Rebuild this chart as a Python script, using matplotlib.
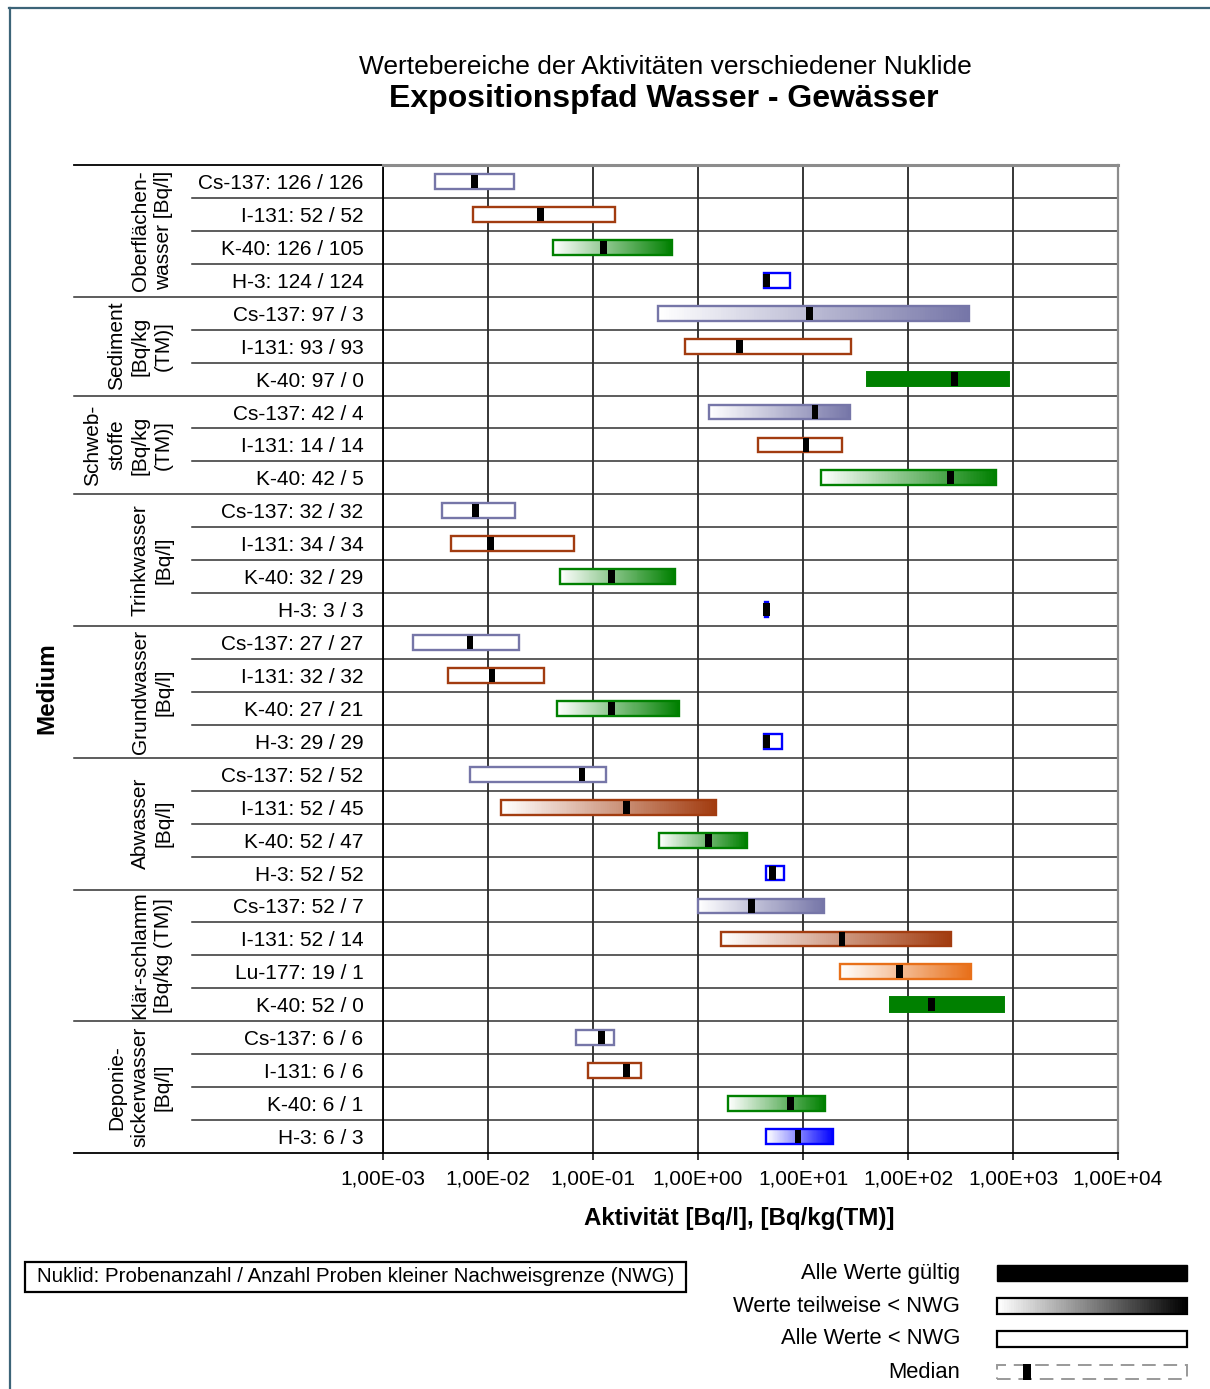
import numpy as np
import matplotlib
matplotlib.use("Agg")
import matplotlib.pyplot as plt
from matplotlib.patches import Rectangle
from matplotlib.collections import PatchCollection
from matplotlib.lines import Line2D
from matplotlib.ticker import NullLocator
import matplotlib.transforms as mtransforms
from matplotlib.colors import to_rgb

plt.rcParams['font.family'] = ['Liberation Sans', 'DejaVu Sans']

# ---------------- data ----------------
group_labels = ["Oberflächen-\nwasser [Bq/l]", "Sediment\n[Bq/kg\n(TM)]",
                "Schweb-\nstoffe\n[Bq/kg\n(TM)]", "Trinkwasser\n[Bq/l]",
                "Grundwasser\n[Bq/l]", "Abwasser\n[Bq/l]",
                "Klär-schlamm\n[Bq/kg (TM)]", "Deponie-\nsickerwasser\n[Bq/l]"]
group_sizes = [4, 3, 3, 4, 4, 4, 4, 4]

nuclides = ["Cs-137", "I-131", "K-40", "H-3",
            "Cs-137", "I-131", "K-40",
            "Cs-137", "I-131", "K-40",
            "Cs-137", "I-131", "K-40", "H-3",
            "Cs-137", "I-131", "K-40", "H-3",
            "Cs-137", "I-131", "K-40", "H-3",
            "Cs-137", "I-131", "Lu-177", "K-40",
            "Cs-137", "I-131", "K-40", "H-3"]
n_samples = [126, 52, 126, 124, 97, 93, 97, 42, 14, 42,
             32, 34, 32, 3, 27, 32, 27, 29, 52, 52, 52, 52,
             52, 52, 19, 52, 6, 6, 6, 6]
n_below = [126, 52, 105, 124, 3, 93, 0, 4, 14, 5,
           32, 34, 29, 3, 27, 32, 21, 29, 52, 45, 47, 52,
           7, 14, 1, 0, 6, 6, 1, 3]
v_min = [0.0031, 0.00718, 0.042, 4.22, 0.42, 0.76, 40.6, 1.26, 3.76, 14.8,
         0.00363, 0.00442, 0.0482, 4.35, 0.00195, 0.00419, 0.0458, 4.22,
         0.00675, 0.0134, 0.424, 4.49, 1.0, 1.64, 22.5, 67.4,
         0.0692, 0.0897, 1.94, 4.49]
v_max = [0.0175, 0.163, 0.571, 7.53, 384, 28.9, 925, 28.3, 23.7, 692,
         0.0179, 0.0664, 0.603, 4.67, 0.0196, 0.0343, 0.661, 6.37,
         0.133, 1.48, 2.9, 6.58, 15.8, 254, 396, 826,
         0.16, 0.288, 16.2, 19.5]
v_median = [0.0075, 0.0319, 0.126, 4.5, 11.6, 2.49, 279, 13.0, 10.7, 254,
            0.00764, 0.01064, 0.149, 4.47, 0.00675, 0.0109, 0.149, 4.5,
            0.0784, 0.209, 1.25, 5.08, 3.22, 23.5, 83, 168,
            0.12, 0.209, 7.59, 8.97]

tick_values = [1e-3, 1e-2, 1e-1, 1e0, 1e1, 1e2, 1e3, 1e4]
tick_labels = ["1,00E-03", "1,00E-02", "1,00E-01", "1,00E+00",
               "1,00E+01", "1,00E+02", "1,00E+03", "1,00E+04"]

nuclide_colors = {"Cs-137": "#7676a8", "I-131": "#a23c10", "K-40": "#008000",
                  "H-3": "#0000ff", "Lu-177": "#e8701a"}

row_labels = [f"{nu}: {a} / {b}" for nu, a, b in zip(nuclides, n_samples, n_below)]

# ---------------- figure ----------------
W, H = 1210, 1389
fig = plt.figure(figsize=(W / 100, H / 100), dpi=100)


def fx(px):
    return px / W


def fy(py):
    return 1 - py / H


AX_L, AX_R, AX_T, AX_B = 383, 1118, 165, 1153
ax = fig.add_axes([fx(AX_L), fy(AX_B), (AX_R - AX_L) / W, (AX_B - AX_T) / H])
ax.set_xscale('log')
ax.set_xlim(tick_values[0], tick_values[-1])
n = len(nuclides)
ax.set_ylim(n, 0)

ax.set_xticks(tick_values)
ax.set_xticklabels(tick_labels)
ax.xaxis.set_minor_locator(NullLocator())
ax.tick_params(axis='x', length=5, width=1.1, direction='out', pad=7,
               labelsize=15, colors='black')
ax.set_yticks(np.arange(n) + 0.5)
ax.set_yticklabels(row_labels)
ax.tick_params(axis='y', length=0, pad=14.0, labelsize=15)
ax.grid(axis='x', color='black', lw=1.1, zorder=1)
ax.set_axisbelow(True)

for side in ['left', 'bottom']:
    ax.spines[side].set_color('black')
    ax.spines[side].set_linewidth(1.3)
ax.spines['top'].set_color('#8c8c8c')
ax.spines['top'].set_linewidth(2.2)
ax.spines['right'].set_color('#8c8c8c')
ax.spines['right'].set_linewidth(1.6)

# row separators
trans = mtransforms.blended_transform_factory(fig.transFigure, ax.transData)
boundaries = set(np.cumsum([0] + group_sizes).tolist())
for k in range(1, n):
    start = 74 if k in boundaries else 192
    ax.add_line(Line2D([fx(start), fx(AX_R)], [k, k], transform=trans,
                       color='#303030', lw=1.1, clip_on=False, zorder=2))
for k in (0, n):
    ax.add_line(Line2D([fx(74), fx(AX_L)], [k, k], transform=trans,
                       color='black', lw=1.3, clip_on=False, zorder=2))

# group labels
start = 0
for lab, size in zip(group_labels, group_sizes):
    ax.text(fx(173), start + size / 2, lab, transform=trans, rotation=90,
            ha='right', va='center', multialignment='center', fontsize=15,
            linespacing=1.3)
    start += size

# bars
bar_h = 0.45
med_h = 0.40
px_per_dec = (AX_R - AX_L) / 7.0
med_f = 10 ** (3.4 / px_per_dec)
NSEG = 120
for i in range(n):
    c = nuclide_colors[nuclides[i]]
    yc = i + 0.5
    lo, hi = v_min[i], v_max[i]
    y0 = yc - bar_h / 2
    if n_below[i] == 0:
        ax.add_patch(Rectangle((lo, y0), hi - lo, bar_h, facecolor=c,
                               edgecolor=c, lw=1.4, zorder=3))
    elif n_below[i] == n_samples[i]:
        ax.add_patch(Rectangle((lo, y0), hi - lo, bar_h, facecolor='white',
                               edgecolor=c, lw=1.7, zorder=3))
    else:
        edges = np.geomspace(lo, hi, NSEG + 1)
        rgb = np.array(to_rgb(c))
        t = np.linspace(0, 1, NSEG)[:, None]
        cols = (1 - t) * np.ones(3) + t * rgb
        rects = [Rectangle((edges[k], y0), edges[k + 1] - edges[k], bar_h)
                 for k in range(NSEG)]
        pc = PatchCollection(rects, facecolors=cols, edgecolors='none',
                             antialiased=False, zorder=3)
        ax.add_collection(pc)
        ax.add_patch(Rectangle((lo, y0), hi - lo, bar_h, fill=False,
                               edgecolor=c, lw=1.7, zorder=4))
    m = v_median[i]
    ax.add_patch(Rectangle((m / med_f, yc - med_h / 2), m * med_f - m / med_f,
                           med_h, facecolor='black', edgecolor='none', zorder=5))

# titles and axis labels
fig.text(fx(665), fy(67), "Wertebereiche der Aktivitäten verschiedener Nuklide",
         ha='center', va='center', fontsize=19)
fig.text(fx(664), fy(99), "Expositionspfad Wasser - Gewässer",
         ha='center', va='center', fontsize=23, fontweight='bold')
fig.text(fx(739), fy(1218), "Aktivität [Bq/l], [Bq/kg(TM)]",
         ha='center', va='center', fontsize=17.4, fontweight='bold')
fig.text(fx(47), fy(688), "Medium", rotation=90, ha='center', va='center',
         fontsize=17.5, fontweight='bold')

# legend box (left)
fig.add_artist(Rectangle((fx(25), fy(1292)), (686 - 25) / W, 30 / H,
                         transform=fig.transFigure, facecolor='white',
                         edgecolor='black', lw=1.6))
fig.text(fx(356), fy(1277),
         "Nuklid: Probenanzahl / Anzahl Proben kleiner Nachweisgrenze (NWG)",
         ha='center', va='center', fontsize=14.8)

# legend (right)
leg_texts = ["Alle Werte gültig", "Werte teilweise < NWG", "Alle Werte < NWG", "Median"]
leg_y = [1273, 1306, 1339, 1372]
for txt, yy in zip(leg_texts, leg_y):
    fig.text(fx(960), fy(yy), txt, ha='right', va='center', fontsize=15.8)

SX0, SX1 = 997, 1187
sw_h = 16
# solid
fig.add_artist(Rectangle((fx(SX0), fy(1273 + sw_h / 2)), (SX1 - SX0) / W, sw_h / H,
                         transform=fig.transFigure, facecolor='black',
                         edgecolor='black', lw=1.0))
# gradient
gseg = 80
gx = np.linspace(SX0, SX1, gseg + 1)
g_rects = [Rectangle((fx(gx[k]), fy(1306 + sw_h / 2)), (gx[k + 1] - gx[k]) / W, sw_h / H)
           for k in range(gseg)]
gt = np.linspace(0, 1, gseg)[:, None]
g_cols = (1 - gt) * np.ones(3)
fig.add_artist(PatchCollection(g_rects, facecolors=g_cols, edgecolors='none',
                               antialiased=False, transform=fig.transFigure))
fig.add_artist(Rectangle((fx(SX0), fy(1306 + sw_h / 2)), (SX1 - SX0) / W, sw_h / H,
                         transform=fig.transFigure, fill=False,
                         edgecolor='black', lw=1.6))
# empty
fig.add_artist(Rectangle((fx(SX0), fy(1339 + sw_h / 2)), (SX1 - SX0) / W, sw_h / H,
                         transform=fig.transFigure, facecolor='white',
                         edgecolor='black', lw=1.6))
# median
fig.add_artist(Rectangle((fx(SX0), fy(1372 + 7)), (SX1 - SX0) / W, 14 / H,
                         transform=fig.transFigure, fill=False,
                         edgecolor='#999999', lw=1.4, linestyle=(0, (7, 4))))
fig.add_artist(Rectangle((fx(1023), fy(1372 + 8)), 8 / W, 16 / H,
                         transform=fig.transFigure, facecolor='black',
                         edgecolor='none'))

# outer frame (left and top edges)
frame_c = '#3c6478'
fig.add_artist(Line2D([fx(9.7), fx(9.7)], [fy(8), 0], transform=fig.transFigure,
                      color=frame_c, lw=1.6))
fig.add_artist(Line2D([fx(9), 1], [fy(7.7), fy(7.7)], transform=fig.transFigure,
                      color=frame_c, lw=1.6))

fig.savefig("out.png", dpi=100)
